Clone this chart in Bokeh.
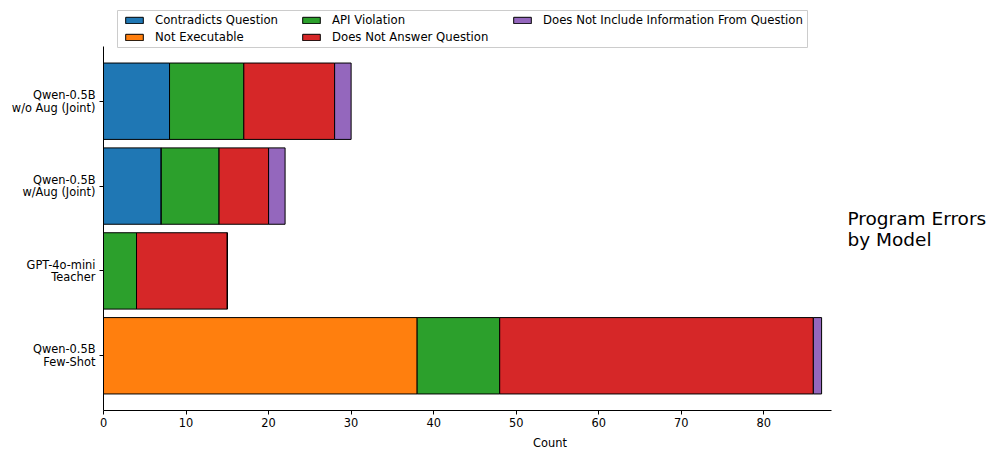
from bokeh.plotting import figure
from bokeh.models import ColumnDataSource, Legend, LegendItem, Label, FixedTicker, BoxAnnotation
from bokeh.embed import file_html
from bokeh.resources import INLINE

models = ["Qwen-0.5B\nFew-Shot", "GPT-4o-mini\nTeacher", "Qwen-0.5B\nw/Aug (Joint)", "Qwen-0.5B\nw/o Aug (Joint)"]
categories = ["Contradicts Question", "Not Executable", "API Violation",
              "Does Not Answer Question", "Does Not Include Information From Question"]
contradicts = [0, 0, 7, 8]
not_exec = [38, 0, 0, 0]
api_violation = [10, 4, 7, 9]
does_not_answer = [38, 11, 6, 11]
does_not_include = [1, 0, 2, 2]
colors = ["#1f77b4", "#ff7f0e", "#2ca02c", "#d62728", "#9467bd"]
x_ticks = [0, 10, 20, 30, 40, 50, 60, 70, 80]
title_text = "Program Errors\nby Model"

FONT = "DejaVu Sans"
ypos = list(range(len(models)))
series = [contradicts, not_exec, api_violation, does_not_answer, does_not_include]

# layout (pixels)
LEFT, AX_RIGHT, AX_TOP, BOTTOM = 103, 831, 46, 410
X_LO, X_HI = 0, 88.2
Y_LO, Y_HI = -0.645, 3.645
FW, FH = 996 - LEFT, BOTTOM
xs = (X_HI - X_LO) / (AX_RIGHT - LEFT)     # data per px
ys = (Y_HI - Y_LO) / (BOTTOM - AX_TOP)
x_end = X_LO + FW * xs
y_end = Y_HI + AX_TOP * ys

def px_x(px):
    return X_LO + (px - LEFT) * xs

def px_y(py):
    return Y_HI - (py - AX_TOP) * ys

p = figure(width=996, height=457, frame_width=FW, frame_height=FH,
           x_range=(X_LO, x_end), y_range=(Y_LO, y_end),
           output_backend="svg", toolbar_location=None,
           min_border_left=LEFT, min_border_right=0, min_border_top=0, min_border_bottom=457 - BOTTOM)
p.outline_line_color = None
p.xgrid.visible = False
p.ygrid.visible = False

renderers = []
left = [0] * len(models)
for name, vals, col in zip(categories, series, colors):
    right = [l + v for l, v in zip(left, vals)]
    src = ColumnDataSource(dict(y=ypos, left=left, right=right))
    r = p.hbar(y="y", left="left", right="right", height=0.9, source=src,
               fill_color=col, line_color="black", line_width=1)
    renderers.append((name, r))
    left = right

# legend frame box
box = BoxAnnotation(left=px_x(117), right=px_x(807), top=px_y(10), bottom=px_y(47),
                    fill_color="white", fill_alpha=0.85,
                    line_color="#cccccc", line_width=1, line_alpha=1)
p.add_layout(box)

# legend columns (matplotlib ncol=3, column-major)
col_groups = [[0, 1], [2, 3], [4]]
col_px = [123, 300, 511]
ROW_H, ROW_GAP, TOP = 14, 3, 12.5
for grp, cx in zip(col_groups, col_px):
    n = len(grp)
    bottom_px = TOP + n * ROW_H + (n - 1) * ROW_GAP
    lg = Legend(items=[LegendItem(label=renderers[i][0], renderers=[renderers[i][1]]) for i in grp],
                orientation="vertical",
                location=(cx - LEFT, BOTTOM - bottom_px),
                label_text_font=FONT, label_text_font_size="11.7px", label_text_color="black",
                glyph_width=22, glyph_height=8, label_height=ROW_H, label_standoff=10,
                spacing=ROW_GAP, padding=0, margin=0,
                border_line_color=None, background_fill_alpha=0)
    p.add_layout(lg, "center")

for ax in (p.xaxis[0], p.yaxis[0]):
    ax.axis_line_color = "black"
    ax.major_tick_line_color = "black"
    ax.minor_tick_line_color = None
    ax.major_tick_in = 0
    ax.major_tick_out = 4
    ax.major_label_text_font = FONT
    ax.major_label_text_font_size = "11.4px"
    ax.major_label_text_color = "black"
    ax.major_label_standoff = 3

p.xaxis.bounds = (X_LO, X_HI)
p.yaxis.bounds = (Y_LO, Y_HI)
p.xaxis.ticker = FixedTicker(ticks=x_ticks)
p.xaxis.axis_label = "Count"
p.xaxis.axis_label_text_font = FONT
p.xaxis.axis_label_text_font_size = "11.4px"
p.xaxis.axis_label_text_font_style = "normal"
p.xaxis.axis_label_text_color = "black"
p.xaxis.axis_label_standoff = 6

p.yaxis.ticker = FixedTicker(ticks=ypos)
p.yaxis.major_label_overrides = {i: m for i, m in enumerate(models)}
p.yaxis.major_label_text_line_height = 0.9
p.yaxis.major_label_standoff = 4

title = Label(x=px_x(847), y=px_y(228),
              text=title_text, text_font=FONT, text_font_size="18.5px",
              text_line_height=1.0,
              text_align="left", text_baseline="middle", text_color="black")
p.add_layout(title)

open("out.html", "w").write(file_html(p, INLINE))
